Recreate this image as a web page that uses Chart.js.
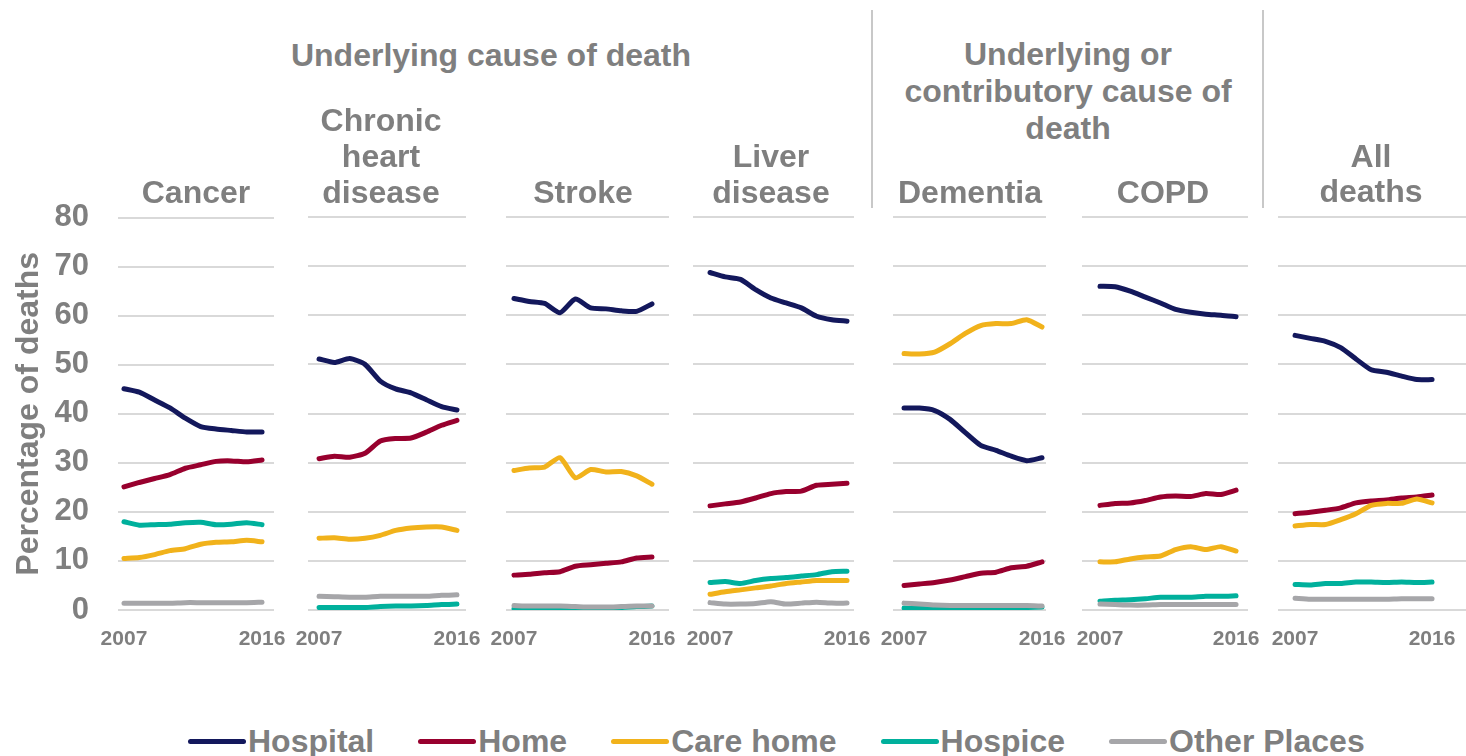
<!DOCTYPE html>
<html>
<head>
<meta charset="utf-8">
<script src="https://cdn.jsdelivr.net/npm/chart.js@4"></script>
<style>
  body { margin: 0; background: #fff; width: 1466px; height: 756px; overflow: hidden; position: relative;
         font-family: "Liberation Sans", Arial, sans-serif; font-weight: bold; color: #7f7f7f; }
  canvas { position: absolute; top: 170px; }
  .title { position: absolute; transform: translateX(-50%); text-align: center; white-space: nowrap;
           font-size: 32px; line-height: 36px; z-index: 2; }
  .sep { position: absolute; top: 10px; width: 2px; height: 198px; background: #c8c8c8; }
  .legend { position: absolute; top: 722px; left: 188px; display: flex; align-items: center; height: 38px;
            font-size: 32px; white-space: nowrap; }
  .legend .item { display: flex; align-items: center; margin-right: 44px; }
  .legend .mark { width: 58px; height: 5px; border-radius: 3px; margin-right: 2px; }
</style>
</head>
<body>

<div class="title" style="left:491px; top:37px">Underlying cause of death</div>
<div class="title" style="left:1068px; top:36px; line-height:37px">Underlying or<br>contributory cause of<br>death</div>

<div class="title" style="left:196px; top:174px">Cancer</div>
<div class="title" style="left:381px; top:102px">Chronic<br>heart<br>disease</div>
<div class="title" style="left:583px; top:174px">Stroke</div>
<div class="title" style="left:771px; top:138px">Liver<br>disease</div>
<div class="title" style="left:970px; top:174px">Dementia</div>
<div class="title" style="left:1163px; top:174px">COPD</div>
<div class="title" style="left:1371px; top:139px; line-height:35px">All<br>deaths</div>

<div class="sep" style="left:871px"></div>
<div class="sep" style="left:1262px"></div>

<div class="legend" id="legend"></div>

<script>
const years = [2007, 2008, 2009, 2010, 2011, 2012, 2013, 2014, 2015, 2016]
const places = ['Hospital', 'Home', 'Care home', 'Hospice', 'Other Places']
const placeColors = ['#13185c', '#98002e', '#f1b21b', '#00b09c', '#a6a6a9']

// percentage of deaths, rows in the order of places
const cancer = [
  [45.1, 44.4, 42.8, 41.2, 39.1, 37.4, 36.9, 36.6, 36.3, 36.3],
  [25.1, 26.0, 26.8, 27.6, 28.9, 29.6, 30.3, 30.4, 30.2, 30.6],
  [10.5, 10.7, 11.3, 12.1, 12.5, 13.4, 13.8, 13.9, 14.2, 13.9],
  [18.0, 17.3, 17.4, 17.5, 17.8, 17.9, 17.4, 17.5, 17.8, 17.4],
  [1.4, 1.4, 1.4, 1.4, 1.5, 1.5, 1.5, 1.5, 1.5, 1.6]
]
const heart = [
  [51.1, 50.4, 51.2, 50.0, 46.6, 45.0, 44.2, 42.8, 41.4, 40.7],
  [30.8, 31.3, 31.1, 31.9, 34.4, 34.9, 35.0, 36.2, 37.6, 38.6],
  [14.6, 14.7, 14.4, 14.6, 15.2, 16.2, 16.7, 16.9, 16.9, 16.2],
  [0.5, 0.5, 0.5, 0.5, 0.7, 0.8, 0.8, 0.9, 1.1, 1.2],
  [2.8, 2.7, 2.6, 2.6, 2.8, 2.8, 2.8, 2.8, 3.0, 3.1]
]
const stroke = [
  [63.4, 62.8, 62.4, 60.5, 63.3, 61.5, 61.3, 60.9, 60.8, 62.3],
  [7.1, 7.3, 7.6, 7.8, 8.9, 9.2, 9.5, 9.8, 10.6, 10.8],
  [28.4, 28.9, 29.1, 31.0, 26.9, 28.6, 28.1, 28.2, 27.3, 25.6],
  [0.3, 0.2, 0.2, 0.2, 0.2, 0.3, 0.4, 0.5, 0.7, 0.8],
  [0.9, 0.8, 0.8, 0.8, 0.7, 0.6, 0.6, 0.7, 0.8, 0.8]
]
const liver = [
  [68.7, 67.8, 67.3, 65.2, 63.5, 62.5, 61.5, 59.8, 59.1, 58.8],
  [21.2, 21.6, 22.0, 22.8, 23.7, 24.1, 24.2, 25.4, 25.6, 25.8],
  [3.2, 3.7, 4.1, 4.5, 4.9, 5.4, 5.7, 6.0, 6.0, 6.0],
  [5.6, 5.8, 5.4, 6.0, 6.4, 6.6, 6.9, 7.2, 7.8, 7.9],
  [1.5, 1.2, 1.2, 1.3, 1.7, 1.2, 1.4, 1.6, 1.4, 1.4]
]
const dementia = [
  [41.1, 41.1, 40.6, 38.8, 36.1, 33.5, 32.5, 31.3, 30.4, 31.0],
  [5.0, 5.3, 5.6, 6.1, 6.8, 7.5, 7.7, 8.6, 8.9, 9.8],
  [52.2, 52.1, 52.5, 54.2, 56.3, 57.9, 58.3, 58.3, 59.1, 57.6],
  [0.4, 0.3, 0.3, 0.3, 0.3, 0.3, 0.3, 0.4, 0.5, 0.6],
  [1.4, 1.2, 1.0, 0.9, 0.9, 0.9, 0.9, 0.9, 0.9, 0.8]
]
const copd = [
  [65.9, 65.8, 64.9, 63.7, 62.5, 61.2, 60.6, 60.2, 60.0, 59.7],
  [21.3, 21.7, 21.8, 22.3, 23.0, 23.2, 23.1, 23.7, 23.5, 24.4],
  [9.8, 9.8, 10.4, 10.8, 11.0, 12.3, 12.9, 12.3, 12.9, 12.0],
  [1.8, 2.0, 2.1, 2.3, 2.6, 2.6, 2.6, 2.8, 2.8, 2.9],
  [1.2, 1.1, 1.0, 1.0, 1.1, 1.1, 1.1, 1.1, 1.1, 1.1]
]
const allDeaths = [
  [55.9, 55.3, 54.7, 53.4, 51.1, 48.9, 48.4, 47.6, 46.9, 46.9],
  [19.6, 19.9, 20.3, 20.8, 21.8, 22.2, 22.4, 22.8, 23.0, 23.4],
  [17.1, 17.4, 17.4, 18.4, 19.6, 21.3, 21.7, 21.7, 22.6, 21.8],
  [5.2, 5.1, 5.4, 5.4, 5.7, 5.7, 5.6, 5.7, 5.6, 5.7],
  [2.4, 2.2, 2.2, 2.2, 2.2, 2.2, 2.2, 2.3, 2.3, 2.3]
]
const yTicks = [0, 10, 20, 30, 40, 50, 60, 70, 80]

// panel layout: plot area edges in the page and the x range each one shows
const panels = [
  { data: cancer,    left: 118,  right: 274,  xMin: 2006.61, xMax: 2016.78 },
  { data: heart,     left: 308,  right: 466,  xMin: 2006.28, xMax: 2016.59 },
  { data: stroke,    left: 506,  right: 669,  xMin: 2006.48, xMax: 2017.11 },
  { data: liver,     left: 693,  right: 854,  xMin: 2005.88, xMax: 2016.46 },
  { data: dementia,  left: 893,  right: 1046, xMin: 2006.28, xMax: 2016.26 },
  { data: copd,      left: 1082, right: 1248, xMin: 2005.81, xMax: 2016.79 },
  { data: allDeaths, left: 1278, right: 1466, xMin: 2005.88, xMax: 2018.23 }
]

const grey = '#7f7f7f'
const font = 'Liberation Sans, Arial, sans-serif'
const margin = 30

function renderPanel (panel, i) {
  const first = i === 0
  const canvasLeft = first ? 0 : panel.left - margin
  const canvasRight = Math.min(panel.right + margin, 1466)
  const canvas = document.createElement('canvas')
  canvas.width = canvasRight - canvasLeft
  canvas.height = 490
  canvas.style.left = canvasLeft + 'px'
  document.body.appendChild(canvas)

  new Chart(canvas.getContext('2d'), {
    type: 'line',
    data: {
      datasets: places.map((place, j) => ({
        label: place,
        data: years.map((y, k) => ({ x: y, y: panel.data[j][k] })),
        borderColor: placeColors[j],
        borderWidth: 5,
        borderCapStyle: 'round',
        borderJoinStyle: 'round',
        pointRadius: 0,
        tension: 0.2,
        fill: false,
        order: places.length - j
      }))
    },
    options: {
      responsive: false,
      animation: false,
      events: [],
      layout: {
        padding: {
          top: 47,
          bottom: 0,
          left: first ? 0 : margin,
          right: canvasRight - panel.right
        }
      },
      plugins: { legend: { display: false }, tooltip: { enabled: false } },
      scales: {
        x: {
          type: 'linear',
          min: panel.xMin,
          max: panel.xMax,
          afterBuildTicks: s => { s.ticks = [{ value: years[0] }, { value: years[years.length - 1] }] },
          afterFit: s => { s.height = 50 },
          grid: { display: false },
          border: { display: false },
          ticks: {
            callback: v => String(v),
            maxRotation: 0,
            autoSkip: false,
            padding: 9,
            color: grey,
            font: { family: font, size: 21, weight: 'bold' }
          }
        },
        y: {
          min: 0,
          max: 80,
          afterBuildTicks: s => { s.ticks = yTicks.map(v => ({ value: v })) },
          afterFit: s => { s.width = first ? panel.left : 0 },
          grid: { color: '#d9d9d9', lineWidth: 2, drawTicks: false },
          border: { display: false },
          ticks: {
            display: first,
            padding: 29,
            color: grey,
            font: { family: font, size: 31, weight: 'bold' }
          },
          title: {
            display: first,
            text: 'Percentage of deaths',
            color: grey,
            padding: { top: 10, bottom: 0 },
            font: { family: font, size: 32, weight: 'bold' }
          }
        }
      }
    }
  })
}

panels.forEach(renderPanel)

const legend = document.getElementById('legend')
places.forEach((place, j) => {
  const item = document.createElement('div')
  item.className = 'item'
  item.innerHTML = '<span class="mark" style="background:' + placeColors[j] + '"></span><span>' + place + '</span>'
  legend.appendChild(item)
})
</script>
</body>
</html>
